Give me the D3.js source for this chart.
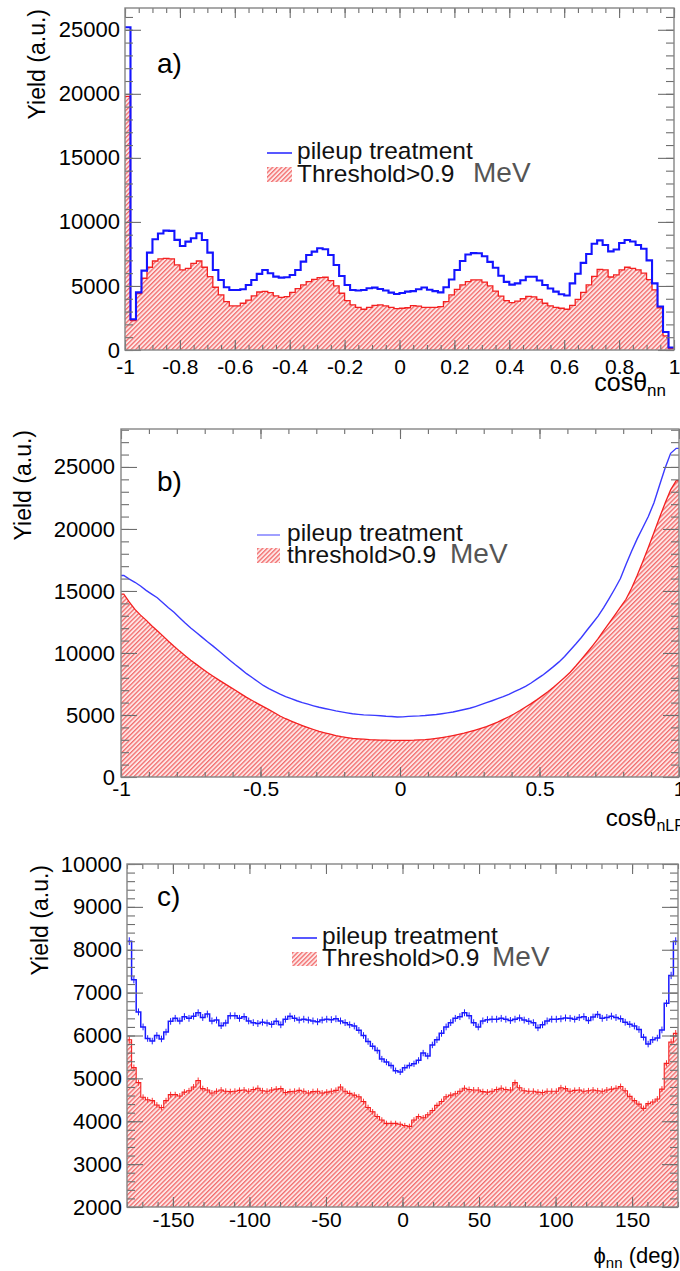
<!DOCTYPE html>
<html><head><meta charset="utf-8">
<script src="https://cdn.jsdelivr.net/npm/d3@7"></script>
<style>
body{margin:0;background:#fff;}
svg{display:block;font-family:"Liberation Sans",Arial,Helvetica,sans-serif;}
</style></head><body>
<svg id="chart" width="680" height="1271"></svg>
<script>
// ---------------- DATA ----------------
// Panel a: cos(theta_nn), 100 bins from -1 to 1
const aRange = [-1, 1];
const aPileup = [25200, 2400, 4500, 6200, 7600, 8650, 9100, 9320, 9300, 8600,
 8120, 8460, 8720, 9110, 8590, 7600, 6250, 5470, 4900, 4690,
 4690, 4740, 5080, 5470, 5940, 6250, 5990, 5730, 5650, 5680,
 5860, 6250, 6900, 7420, 7680, 7940, 7860, 7420, 6640, 5780,
 5080, 4690, 4640, 4690, 4820, 4870, 4760, 4640, 4480, 4370,
 4450, 4560, 4600, 4740, 4880, 4700, 4600, 4500, 4900, 5500,
 6250, 6950, 7450, 7560, 7550, 7320, 6880, 6420, 5800, 5320,
 5100, 5200, 5450, 5720, 5720, 5430, 5080, 4800, 4560, 4350,
 4250, 5200, 5950, 6800, 7500, 8300, 8560, 8200, 7700, 7850,
 8350, 8590, 8470, 8200, 7900, 7000, 5200, 3400, 1400, 200];
const aThreshold = [19800, 2300, 4400, 5600, 6460, 6950, 7110, 7160, 7110, 6640,
 6250, 6380, 6770, 6950, 6460, 5730, 4900, 4300, 3780, 3440,
 3440, 3650, 3900, 4220, 4530, 4580, 4480, 4220, 4110, 4170,
 4500, 4790, 5080, 5340, 5520, 5650, 5680, 5420, 5000, 4430,
 3850, 3520, 3330, 3180, 3330, 3490, 3520, 3440, 3330, 3230,
 3260, 3300, 3460, 3420, 3330, 3330, 3330, 3380, 3780, 4300,
 4740, 5080, 5340, 5470, 5470, 5300, 5000, 4600, 4200, 3850,
 3700, 3820, 4000, 4180, 4150, 3950, 3650, 3450, 3330, 3260,
 3180, 3480, 3950, 4500, 5080, 5750, 6300, 6250, 5700, 5860,
 6250, 6460, 6380, 6250, 6000, 5500, 4700, 3300, 1100, 100];
const aXTicks = [-1, -0.8, -0.6, -0.4, -0.2, 0, 0.2, 0.4, 0.6, 0.8, 1];
const aXTickLabels = ["-1", "-0.8", "-0.6", "-0.4", "-0.2", "0", "0.2", "0.4", "0.6", "0.8", "1"];
const aYTicks = [0, 5000, 10000, 15000, 20000, 25000];
const aYTickLabels = ["0", "5000", "10000", "15000", "20000", "25000"];

// Panel b: cos(theta_nLF), 100 bins from -1 to 1
const bRange = [-1, 1];
const bPileup = [16250, 15950, 15700, 15400, 15050, 14750, 14450, 14050, 13650, 13280,
 12850, 12420, 12010, 11650, 11280, 10900, 10550, 10180, 9800, 9420,
 9050, 8700, 8330, 8020, 7700, 7380, 7130, 6900, 6680, 6480,
 6320, 6150, 6000, 5870, 5740, 5620, 5520, 5430, 5330, 5250,
 5170, 5100, 5050, 5010, 4990, 4970, 4940, 4900, 4880, 4840,
 4850, 4890, 4910, 4930, 4960, 5000, 5040, 5100, 5170, 5240,
 5340, 5440, 5540, 5680, 5830, 5990, 6150, 6320, 6480, 6670,
 6880, 7080, 7310, 7580, 7890, 8190, 8540, 8900, 9280, 9720,
 10220, 10720, 11250, 11830, 12400, 12970, 13650, 14400, 15180, 16000,
 17130, 18200, 19200, 20100, 21000, 22100, 23500, 24900, 26100, 26500];
const bThreshold = [14750, 14100, 13510, 13050, 12650, 12200, 11800, 11380, 10950, 10540,
 10150, 9780, 9420, 9080, 8750, 8430, 8130, 7830, 7550, 7270,
 6990, 6700, 6420, 6170, 5920, 5680, 5430, 5180, 4920, 4700,
 4510, 4320, 4150, 3990, 3830, 3680, 3560, 3450, 3340, 3250,
 3180, 3120, 3080, 3050, 3020, 3000, 2980, 2970, 2960, 2950,
 2950, 2960, 2970, 2990, 3010, 3060, 3120, 3180, 3250, 3340,
 3430, 3530, 3650, 3780, 3920, 4070, 4250, 4420, 4640, 4860,
 5100, 5360, 5640, 5920, 6220, 6540, 6870, 7230, 7630, 8030,
 8450, 8950, 9480, 10020, 10580, 11150, 11800, 12420, 13050, 13700,
 14330, 15220, 16250, 17350, 18500, 19700, 20900, 22070, 23150, 23900];
const bXTicks = [-1, -0.5, 0, 0.5, 1];
const bXTickLabels = ["-1", "-0.5", "0", "0.5", "1"];
const bYTicks = [0, 5000, 10000, 15000, 20000, 25000];
const bYTickLabels = ["0", "5000", "10000", "15000", "20000", "25000"];

// Panel c: phi_nn (deg), 120 bins from -180 to 180
const cRange = [-180, 180];
const cPileup = [8200, 7300, 6550, 6200, 5930, 5870, 6000, 5920, 6080, 6330,
 6400, 6340, 6440, 6400, 6450, 6530, 6420, 6500, 6340, 6360,
 6230, 6290, 6460, 6460, 6400, 6440, 6340, 6300, 6280, 6310,
 6290, 6260, 6330, 6250, 6380, 6450, 6400, 6360, 6380, 6360,
 6340, 6320, 6360, 6380, 6370, 6390, 6340, 6300, 6250, 6220,
 6120, 6000, 5860, 5750, 5650, 5450, 5380, 5300, 5180, 5150,
 5250, 5300, 5340, 5420, 5590, 5520, 5780, 5900, 6050, 6200,
 6300, 6400, 6440, 6530, 6460, 6300, 6200, 6340, 6370, 6380,
 6380, 6400, 6380, 6350, 6380, 6410, 6360, 6330, 6300, 6180,
 6250, 6340, 6380, 6380, 6390, 6410, 6400, 6380, 6420, 6440,
 6350, 6430, 6490, 6400, 6420, 6450, 6420, 6390, 6310, 6260,
 6220, 6140, 5960, 5800, 5900, 5940, 6130, 6750, 7400, 8200];
const cThreshold = [5900, 5250, 4900, 4560, 4500, 4480, 4380, 4320, 4480, 4620,
 4620, 4590, 4680, 4710, 4800, 4950, 4760, 4730, 4660, 4700,
 4730, 4700, 4690, 4700, 4720, 4730, 4700, 4740, 4770, 4710,
 4700, 4730, 4750, 4760, 4670, 4690, 4700, 4720, 4700, 4660,
 4690, 4700, 4660, 4680, 4700, 4720, 4800, 4700, 4650, 4610,
 4570, 4460, 4320, 4220, 4110, 4030, 3950, 3950, 3950, 3930,
 3900, 3880, 4030, 4110, 4080, 4150, 4250, 4370, 4460, 4570,
 4610, 4640, 4700, 4770, 4740, 4730, 4730, 4690, 4680, 4700,
 4740, 4770, 4740, 4730, 4900, 4780, 4710, 4700, 4700, 4680,
 4670, 4700, 4700, 4700, 4780, 4760, 4700, 4720, 4730, 4700,
 4710, 4730, 4710, 4700, 4730, 4750, 4770, 4810, 4710, 4580,
 4480, 4400, 4300, 4410, 4450, 4520, 4750, 5350, 5850, 6050];
const cXTicks = [-150, -100, -50, 0, 50, 100, 150];
const cXTickLabels = ["-150", "-100", "-50", "0", "50", "100", "150"];
const cYTicks = [2000, 3000, 4000, 5000, 6000, 7000, 8000, 9000, 10000];
const cYTickLabels = ["2000", "3000", "4000", "5000", "6000", "7000", "8000", "9000", "10000"];

const legendLine = "pileup treatment";
const legendFillA = "Threshold>0.9";
const legendFillB = "threshold>0.9";
const legendUnit = "MeV";

// ---------------- DRAWING ----------------
const svg = d3.select("#chart");
const defs = svg.append("defs");
const pat = defs.append("pattern").attr("id", "hatch")
  .attr("patternUnits", "userSpaceOnUse").attr("width", 3.2).attr("height", 3.2)
  .attr("patternTransform", "rotate(45)");
pat.append("rect").attr("width", 3.2).attr("height", 3.2).attr("fill", "#fde6e6");
pat.append("rect").attr("width", 1.3).attr("height", 3.2).attr("fill", "#f26c6c");

const FONT = '"Liberation Sans",Arial,Helvetica,sans-serif';

function edgesOf(range, n) {
  return d3.range(n + 1).map(i => range[0] + (range[1] - range[0]) * i / n);
}

function drawPanel(p) {
  const g = svg.append("g");
  const x = d3.scaleLinear().domain(p.xDomain).range([p.left, p.right]);
  const y = d3.scaleLinear().domain(p.yDomain).range([p.bottom, p.top]);
  defs.append("clipPath").attr("id", "clip" + p.id).append("rect")
    .attr("x", p.left).attr("y", p.top).attr("width", p.right - p.left).attr("height", p.bottom - p.top);
  const plot = g.append("g").attr("clip-path", `url(#clip${p.id})`);

  const n = p.fill.length;
  const edges = edgesOf(p.xDomain, n);
  const pts = vals => {
    const arr = [];
    if (p.mode === "line") {
      arr.push([edges[0], vals[0]]);
      vals.forEach((v, i) => arr.push([(edges[i] + edges[i + 1]) / 2, v]));
      arr.push([edges[n], vals[n - 1]]);
    } else {
      vals.forEach((v, i) => { arr.push([edges[i], v]); arr.push([edges[i + 1], v]); });
    }
    return arr;
  };
  const line = d3.line().x(d => x(d[0])).y(d => y(d[1]));
  const area = d3.area().x(d => x(d[0])).y0(y(p.yDomain[0])).y1(d => y(d[1]));

  plot.append("path").attr("d", area(pts(p.fill))).attr("fill", "url(#hatch)");
  if (p.errors) {
    p.fill.forEach((v, i) => {
      const c = (edges[i] + edges[i + 1]) / 2, e = Math.sqrt(v);
      plot.append("line").attr("x1", x(c)).attr("x2", x(c)).attr("y1", y(v - e)).attr("y2", y(v + e))
        .attr("stroke", "#f33").attr("stroke-width", 1);
    });
  }
  plot.append("path").attr("d", line(pts(p.fill))).attr("fill", "none")
    .attr("stroke", "#f42020").attr("stroke-width", p.redW);
  if (p.errors) {
    p.line.forEach((v, i) => {
      const c = (edges[i] + edges[i + 1]) / 2, e = Math.sqrt(v);
      plot.append("line").attr("x1", x(c)).attr("x2", x(c)).attr("y1", y(v - e)).attr("y2", y(v + e))
        .attr("stroke", p.blue).attr("stroke-width", 1);
    });
  }
  plot.append("path").attr("d", line(pts(p.line))).attr("fill", "none")
    .attr("stroke", p.blue).attr("stroke-width", p.blueW).attr("stroke-linejoin", "miter");

  // axes
  const xFmt = d => p.xLabels[p.xTicks.indexOf(d)];
  const yFmt = d => p.yLabels[p.yTicks.indexOf(d)];
  const xMinor = d3.range(p.xDomain[0], p.xDomain[1] + 1e-9, p.xMinorStep);
  const yMinor = d3.range(p.yDomain[0], p.yDomain[1] + 1e-9, p.yMinorStep);
  const tickCol = "#6e6e6e";
  function style(sel) {
    sel.select(".domain").remove();
    sel.selectAll(".tick line").attr("stroke", tickCol).attr("stroke-width", 1.1);
    sel.selectAll("text").attr("fill", "#000").style("font-family", FONT);
  }
  const xMaj = 10, xMin = 5, yMaj = 16, yMin = 8;
  g.append("g").attr("transform", `translate(0,${p.bottom})`)
    .call(d3.axisBottom(x).tickValues(p.xTicks).tickSizeInner(-xMaj).tickSizeOuter(0).tickPadding(p.xPad).tickFormat(xFmt))
    .call(style).selectAll("text").style("font-size", p.xFont + "px");
  g.append("g").attr("transform", `translate(0,${p.bottom})`)
    .call(d3.axisBottom(x).tickValues(xMinor).tickSizeInner(-xMin).tickSizeOuter(0).tickFormat(""))
    .call(style);
  g.append("g").attr("transform", `translate(0,${p.top})`)
    .call(d3.axisTop(x).tickValues(p.xTicks).tickSizeInner(-xMaj).tickSizeOuter(0).tickFormat(""))
    .call(style);
  g.append("g").attr("transform", `translate(0,${p.top})`)
    .call(d3.axisTop(x).tickValues(xMinor).tickSizeInner(-xMin).tickSizeOuter(0).tickFormat(""))
    .call(style);
  g.append("g").attr("transform", `translate(${p.left},0)`)
    .call(d3.axisLeft(y).tickValues(p.yTicks).tickSizeInner(-yMaj).tickSizeOuter(0).tickPadding(p.yPad).tickFormat(yFmt))
    .call(style).selectAll("text").style("font-size", p.yFont + "px");
  g.append("g").attr("transform", `translate(${p.left},0)`)
    .call(d3.axisLeft(y).tickValues(yMinor).tickSizeInner(-yMin).tickSizeOuter(0).tickFormat(""))
    .call(style);
  g.append("g").attr("transform", `translate(${p.right},0)`)
    .call(d3.axisRight(y).tickValues(p.yTicks).tickSizeInner(-yMaj).tickSizeOuter(0).tickFormat(""))
    .call(style);
  g.append("g").attr("transform", `translate(${p.right},0)`)
    .call(d3.axisRight(y).tickValues(yMinor).tickSizeInner(-yMin).tickSizeOuter(0).tickFormat(""))
    .call(style);

  g.append("rect").attr("x", p.left).attr("y", p.top).attr("width", p.right - p.left).attr("height", p.bottom - p.top)
    .attr("fill", "none").attr("stroke", "#858585").attr("stroke-width", 1.4);

  // y title
  g.append("text").attr("transform", `translate(${p.yTitleX},${p.top + 1}) rotate(-90)`)
    .attr("text-anchor", "end").style("font-size", "23px").style("font-family", FONT).attr("fill", "#000")
    .text("Yield (a.u.)");
  // x title
  const xt = g.append("text").attr("x", p.xTitleX).attr("y", p.xTitleY).attr("text-anchor", "end")
    .style("font-size", p.xtFont + "px").style("font-family", FONT).attr("fill", "#000");
  xt.append("tspan").text(p.xTitle[0]);
  xt.append("tspan").attr("dy", 5).style("font-size", p.xtSub + "px").text(p.xTitle[1]);
  if (p.xTitle[2]) xt.append("tspan").attr("dy", -5).text(p.xTitle[2]);

  // panel label
  g.append("text").attr("x", p.labX).attr("y", p.labY).style("font-size", "28px").style("font-family", FONT)
    .attr("fill", "#000").text(p.label);

  // legend
  const L = p.legend;
  g.append("line").attr("x1", L.x).attr("x2", L.x + L.w).attr("y1", L.y1).attr("y2", L.y1)
    .attr("stroke", p.legBlue).attr("stroke-width", 1.5);
  g.append("text").attr("x", L.tx).attr("y", L.b1).style("font-size", "24.5px").style("font-family", FONT)
    .attr("fill", "#111").text(legendLine);
  g.append("rect").attr("x", L.x).attr("y", L.r0).attr("width", L.w).attr("height", L.rh).attr("fill", "url(#hatch)");
  g.append("text").attr("x", L.tx).attr("y", L.b2).style("font-size", "24.5px").style("font-family", FONT)
    .attr("fill", "#111").text(p.fillName);
  g.append("text").attr("x", L.mx).attr("y", L.b2).style("font-size", "28px").style("font-family", FONT)
    .attr("fill", "#555").text(legendUnit);
}

drawPanel({
  id: "a", left: 125, right: 674, top: 8, bottom: 350,
  xDomain: aRange, yDomain: [0, 26700], mode: "step",
  line: aPileup, fill: aThreshold, blue: "#1414ff", blueW: 2.1, redW: 1.3, legBlue: "#2020ff",
  xTicks: aXTicks, xLabels: aXTickLabels, yTicks: aYTicks, yLabels: aYTickLabels,
  xMinorStep: 0.05, yMinorStep: 1000, xPad: 9, yPad: 5, xFont: 21, yFont: 22,
  yTitleX: 45, xTitle: ["cosθ", "nn"], xTitleX: 666, xTitleY: 391, xtFont: 25, xtSub: 17,
  label: "a)", labX: 157, labY: 73,
  fillName: legendFillA,
  legend: { x: 267, w: 25, y1: 153, tx: 297, b1: 159, r0: 167, rh: 15, b2: 182, mx: 473 }
});
drawPanel({
  id: "b", left: 121, right: 679, top: 429, bottom: 777,
  xDomain: bRange, yDomain: [0, 28060], mode: "line",
  line: bPileup, fill: bThreshold, blue: "#3a3aff", blueW: 1.4, redW: 1.3, legBlue: "#8080ff",
  xTicks: bXTicks, xLabels: bXTickLabels, yTicks: bYTicks, yLabels: bYTickLabels,
  xMinorStep: 0.1, yMinorStep: 1000, xPad: 4, yPad: 6, xFont: 21, yFont: 22,
  yTitleX: 31, xTitle: ["cosθ", "nLF"], xTitleX: 684, xTitleY: 826, xtFont: 24, xtSub: 16,
  label: "b)", labX: 157, labY: 491,
  fillName: legendFillB,
  legend: { x: 257, w: 23, y1: 535, tx: 287, b1: 541, r0: 548, rh: 15, b2: 563, mx: 450 }
});
drawPanel({
  id: "c", left: 127, right: 678, top: 864, bottom: 1207,
  xDomain: cRange, yDomain: [2000, 10000], mode: "step", errors: true,
  line: cPileup, fill: cThreshold, blue: "#1a1aff", blueW: 1.5, redW: 1.1, legBlue: "#2020ff",
  xTicks: cXTicks, xLabels: cXTickLabels, yTicks: cYTicks, yLabels: cYTickLabels,
  xMinorStep: 10, yMinorStep: 200, xPad: 5, yPad: 5, xFont: 21, yFont: 22,
  yTitleX: 48, xTitle: ["ϕ", "nn", " (deg)"], xTitleX: 680, xTitleY: 1263, xtFont: 22, xtSub: 15,
  label: "c)", labX: 157, labY: 906,
  fillName: legendFillA,
  legend: { x: 292, w: 25, y1: 938, tx: 322, b1: 944, r0: 952, rh: 14, b2: 966, mx: 492 }
});
</script>
</body></html>
